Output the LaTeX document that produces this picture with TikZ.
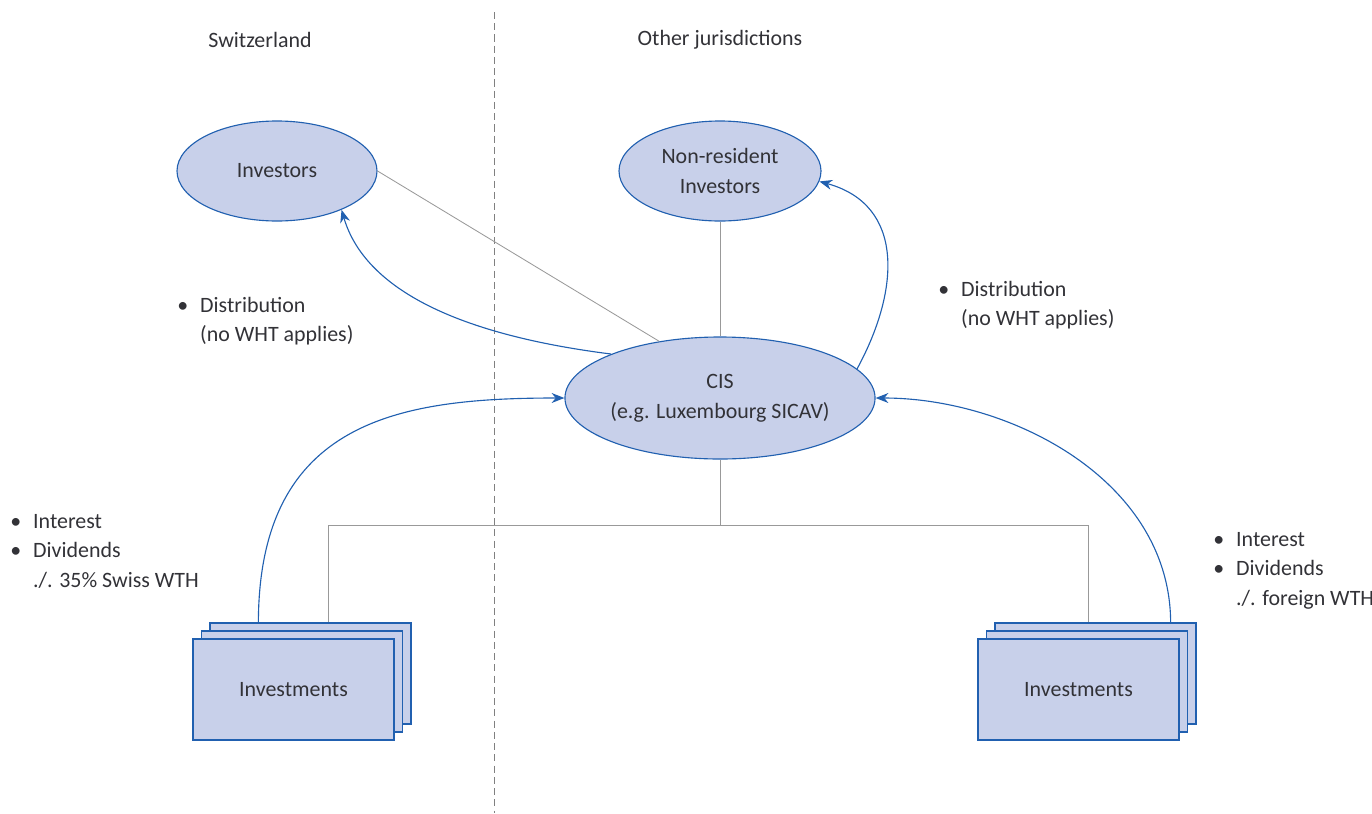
\documentclass[tikz,border=0pt]{standalone}
\usepackage{fontspec}
\setmainfont{Carlito}
\usetikzlibrary{shapes.geometric,arrows.meta}
\definecolor{cisfill}{RGB}{200,208,234}
\definecolor{cisblue}{RGB}{33,96,176}
\definecolor{cistext}{RGB}{50,50,55}
\newcommand{\bul}{\textbullet}
\begin{document}
\begin{tikzpicture}[x=0.25mm,y=-0.25mm,
    every node/.style={text=cistext,font=\fontsize{15.6}{21.3}\selectfont},
    party/.style={ellipse,draw=cisblue,fill=cisfill,line width=0.8pt,inner sep=0pt,align=center},
    invbox/.style={rectangle,draw=cisblue,fill=cisfill,line width=0.9pt,minimum width=50.25mm,minimum height=25.25mm},
    link/.style={draw=gray!80,line width=0.6pt},
    flow/.style={draw=cisblue,line width=0.8pt,-{Stealth[length=3.2mm,width=2.5mm]}},
    note/.style={anchor=west,inner sep=0pt,align=left}]
            \useasboundingbox (0,0) rectangle (1372,813);
            \draw[gray,dashed,dash pattern=on 5pt off 3pt,line width=0.6pt] (494,12) -- (494,813);
            \node (hdCH) at (260,40) {Switzerland};
            \node (hdOT) at (720,40) {Other jurisdictions};
            \node[party,minimum width=50mm,minimum height=25mm] (invCH) at (277,171) {Investors};
            \node[party,minimum width=50.5mm,minimum height=25mm] (nonres) at (720,171) {Non-resident\\Investors};
            \node[party,minimum width=76mm,minimum height=30.5mm] (cis) at (720,398) {CIS\\(e.g. Luxembourg SICAV)};
            \node[invbox] (invCHb) at (310.5,673.5) {};
            \node[invbox] (invCHm) at (302,681.5) {};
            \node[invbox] (invCH1) at (293.5,689.5) {Investments};
            \node[invbox] (invOTb) at (1095.5,673.5) {};
            \node[invbox] (invOTm) at (1087,681.5) {};
            \node[invbox] (invOT1) at (1078.5,689.5) {Investments};
            \coordinate (jc) at (720,525);
            \coordinate (jl) at (328,525);
            \coordinate (jr) at (1088,525);
            \draw[link] (invCH.east) -- (cis.137);
            \draw[link] (nonres.south) -- (cis.north);
            \draw[link] (cis.south) -- (jc);
            \draw[link] (jl) -- (jr);
            \draw[link] (jl) -- (jl |- invCHb.north);
            \draw[link] (jr) -- (jr |- invOTb.north);
            \draw[flow] (cis.158) .. controls (460,335) and (365,290) .. (invCH.-31);
            \draw[flow] (cis.12) .. controls (900,290) and (905,205) .. (nonres.-6);
            \draw[flow] (invCHb.north west) ++(49,0) .. controls (259,420) and (400,398) .. (cis.west);
            \draw[flow] (invOTb.north east) ++(-26,0) .. controls (1170,480) and (1010,398) .. (cis.east);
            \node[note] (distCH) at (177,321) {\begin{tabular}{@{}l@{\hspace{3mm}}l@{}}\bul & Distribution\\ & (no WHT applies)\end{tabular}};
            \node[note] (distOT) at (938,305) {\begin{tabular}{@{}l@{\hspace{3mm}}l@{}}\bul & Distribution\\ & (no WHT applies)\end{tabular}};
            \node[note] (incCH) at (10,552) {\begin{tabular}{@{}l@{\hspace{3mm}}l@{}}\bul & Interest\\ \bul & Dividends\\ & ./. 35\% Swiss WTH\end{tabular}};
            \node[note] (incOT) at (1213,570) {\begin{tabular}{@{}l@{\hspace{3mm}}l@{}}\bul & Interest\\ \bul & Dividends\\ & ./. foreign WTH\end{tabular}};
        \end{tikzpicture}
\end{document}
